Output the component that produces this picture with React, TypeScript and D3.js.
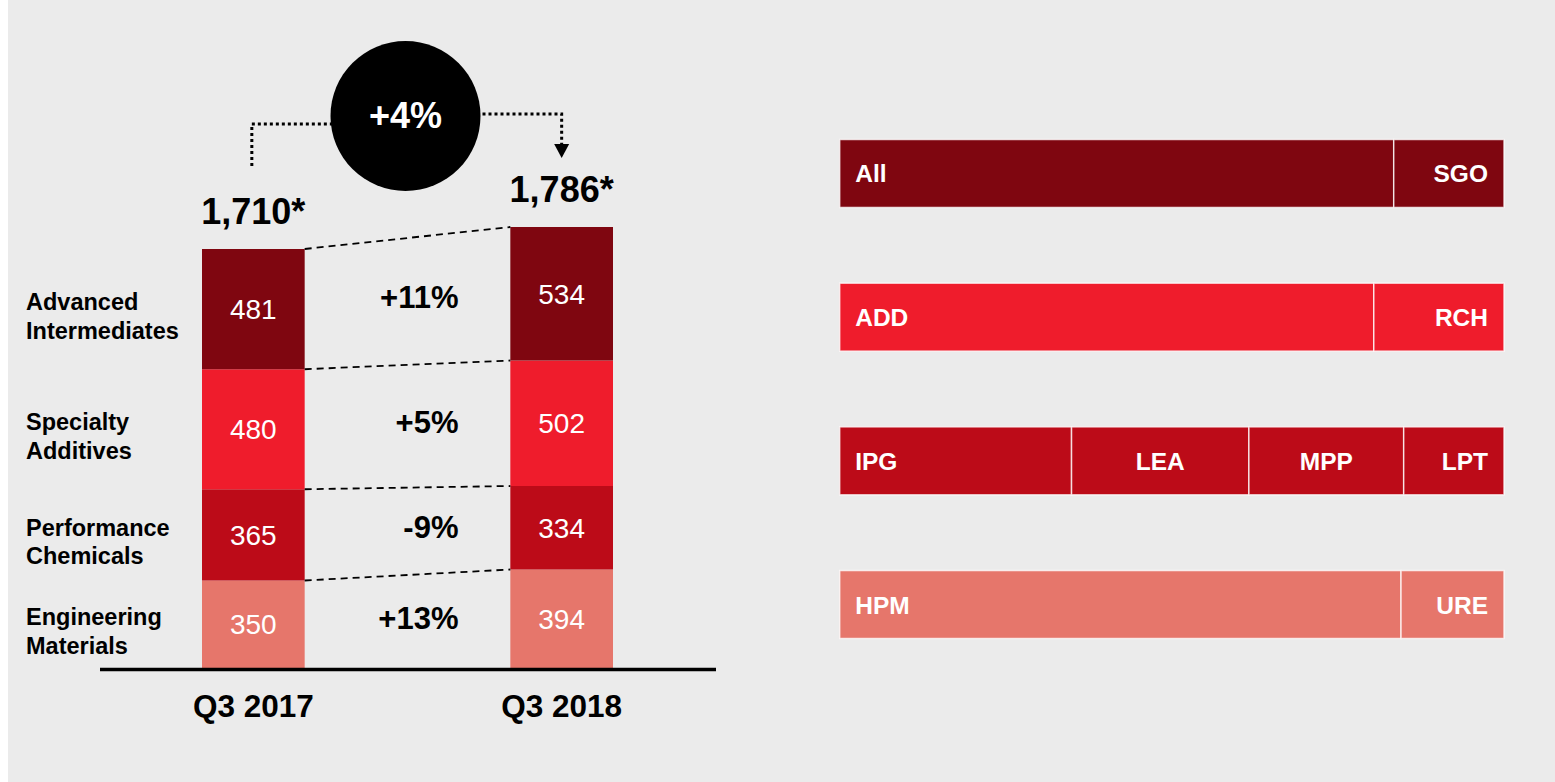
import * as d3 from "d3";
import React from "react";

// left chart data (bottom -> top)
const periods = ["Q3 2017", "Q3 2018"];
const segments = ["Engineering Materials", "Performance Chemicals", "Specialty Additives", "Advanced Intermediates"];
const segmentLines = [["Engineering", "Materials"], ["Performance", "Chemicals"], ["Specialty", "Additives"], ["Advanced", "Intermediates"]];
const valuesQ317 = [350, 365, 480, 481];
const valuesQ318 = [394, 334, 502, 534];
const totals = ["1,710*", "1,786*"];
const changes = ["+13%", "-9%", "+5%", "+11%"];
const overallChange = "+4%";
const segColors = ["#e6766b", "#bc0b18", "#ef1c2c", "#7f0610"];

// right side: business lines per segment (top -> bottom), share of width in %
const rowNames = ["Advanced Intermediates", "Specialty Additives", "Performance Chemicals", "Engineering Materials"];
const rowLabels = [["All", "SGO"], ["ADD", "RCH"], ["IPG", "LEA", "MPP", "LPT"], ["HPM", "URE"]];
const rowShares = [[83.4, 16.6], [80.4, 19.6], [34.9, 26.7, 23.3, 15.1], [84.5, 15.5]];

const W = 1555;
const H = 782;
const font = "'Liberation Sans', Arial, Helvetica, sans-serif";

export default function App() {
  const table = periods.map((p, i) => {
    const row: any = { period: p };
    segments.forEach((s, j) => {
      row[s] = i === 0 ? valuesQ317[j] : valuesQ318[j];
    });
    return row;
  });
  const stacked = d3.stack().keys(segments)(table);
  const sums = table.map((r) => d3.sum(segments, (s) => r[s]));

  const x = d3.scaleBand().domain(periods).range([202, 613]).paddingInner(0.667).paddingOuter(0);
  const y = d3.scaleLinear().domain([0, d3.max(sums)!]).range([668, 227]);
  const bw = x.bandwidth();
  const cx = (p: string) => x(p)! + bw / 2;

  const x1 = x(periods[0])! + bw;
  const x2 = x(periods[1])!;
  const midX = (cx(periods[0]) + cx(periods[1])) / 2;

  // circle placement
  const circR = 75;
  const circY = 116;
  const leftTop = y(sums[0]);
  const rightTop = y(sums[1]);

  // right chart scales
  const xr = d3.scaleLinear().domain([0, 100]).range([839.7, 1504]);
  const yr = d3.scaleBand().domain(rowNames).range([139.5, 638.5]).paddingInner(0.527).paddingOuter(0);

  return (
    <svg width={W} height={H} style={{ position: "absolute", left: 0, top: 0, display: "block" }} fontFamily={font}>
      <rect x={0} y={0} width={W} height={H} fill="#ffffff" />
      <rect x={8} y={0} width={W - 8} height={H} fill="#ebebeb" />

      {/* stacked bars */}
      {stacked.map((layer, j) => (
        <g key={layer.key}>
          {layer.map((d, i) => (
            <g key={i}>
              <rect x={x(periods[i])} y={y(d[1])} width={bw} height={y(d[0]) - y(d[1])} fill={segColors[j]} />
              <text
                x={cx(periods[i])}
                y={(y(d[0]) + y(d[1])) / 2 + 10}
                textAnchor="middle"
                fill="#fff"
                fontSize={28}
              >
                {d[1] - d[0]}
              </text>
            </g>
          ))}
        </g>
      ))}

      {/* dashed connectors between bar segment tops */}
      {stacked.map((layer) => (
        <line
          key={"c" + layer.key}
          x1={x1}
          y1={y(layer[0][1])}
          x2={x2}
          y2={y(layer[1][1])}
          stroke="#000"
          strokeWidth={1.8}
          strokeDasharray="7,5"
        />
      ))}

      {/* change labels */}
      {stacked.map((layer, j) => (
        <text
          key={"p" + layer.key}
          x={midX + 51}
          y={((y(layer[0][0]) + y(layer[0][1])) / 2 + (y(layer[1][0]) + y(layer[1][1])) / 2) / 2 + 7}
          textAnchor="end"
          fontWeight="bold"
          fontSize={31}
          fill="#000"
        >
          {changes[j]}
        </text>
      ))}

      {/* category labels */}
      {stacked.map((layer, j) => {
        const c = (y(layer[0][0]) + y(layer[0][1])) / 2;
        return (
          <text key={"l" + layer.key} x={26} y={c + 1} fontWeight="bold" fontSize={23.5} fill="#000">
            {segmentLines[j].map((t, k) => (
              <tspan key={k} x={26} dy={k === 0 ? 0 : 28.5}>
                {t}
              </tspan>
            ))}
          </text>
        );
      })}

      {/* totals */}
      {periods.map((p, i) => (
        <text key={"t" + p} x={cx(p)} y={y(sums[i]) - 25} textAnchor="middle" fontWeight="bold" fontSize={36} fill="#000">
          {totals[i]}
        </text>
      ))}

      {/* baseline */}
      <line x1={100} x2={716} y1={669.5} y2={669.5} stroke="#000" strokeWidth={3.5} />

      {/* x labels */}
      {periods.map((p) => (
        <text key={"x" + p} x={cx(p)} y={717} textAnchor="middle" fontWeight="bold" fontSize={31.5} fill="#000">
          {p}
        </text>
      ))}

      {/* dotted bracket + circle */}
      <path
        d={`M${cx(periods[0]) - 1.5},${leftTop - 83} V${circY + 8} H${midX - circR}`}
        fill="none"
        stroke="#000"
        strokeWidth={3}
        strokeDasharray="3,3"
      />
      <path
        d={`M${midX + circR},${circY - 2} H${cx(periods[1])} V${rightTop - 83}`}
        fill="none"
        stroke="#000"
        strokeWidth={3}
        strokeDasharray="3,3"
      />
      <path
        d={`M${cx(periods[1]) - 7.5},${rightTop - 83} L${cx(periods[1]) + 7.5},${rightTop - 83} L${cx(periods[1])},${rightTop - 69} Z`}
        fill="#000"
      />
      <circle cx={midX - 2} cy={circY} r={circR} fill="#000" />
      <text x={midX - 2} y={circY + 12} textAnchor="middle" fill="#fff" fontWeight="bold" fontSize={36}>
        {overallChange}
      </text>

      {/* right side business line bars */}
      {rowNames.map((name, r) => {
        const shares = rowShares[r];
        const starts = shares.map((_, k) => d3.sum(shares.slice(0, k)));
        const colorIdx = segments.indexOf(name);
        const top = yr(name)!;
        const h = yr.bandwidth();
        const n = shares.length;
        return (
          <g key={"r" + name}>
            {shares.map((s, k) => {
              const xa = xr(starts[k]);
              const xb = xr(starts[k] + s);
              let tx = (xa + xb) / 2;
              let anchor = "middle";
              if (k === 0) {
                tx = xa + 15.5;
                anchor = "start";
              } else if (k === n - 1) {
                tx = xb - 16;
                anchor = "end";
              }
              return (
                <g key={k}>
                  <rect
                    x={xa}
                    y={top}
                    width={xb - xa}
                    height={h}
                    fill={segColors[colorIdx]}
                    stroke="rgba(255,255,255,0.75)"
                    strokeWidth={1.5}
                  />
                  <text
                    x={tx}
                    y={top + h / 2 + 9}
                    textAnchor={anchor}
                    fill="#fff"
                    fontWeight="bold"
                    fontSize={24.5}
                  >
                    {rowLabels[r][k]}
                  </text>
                </g>
              );
            })}
          </g>
        );
      })}
    </svg>
  );
}
